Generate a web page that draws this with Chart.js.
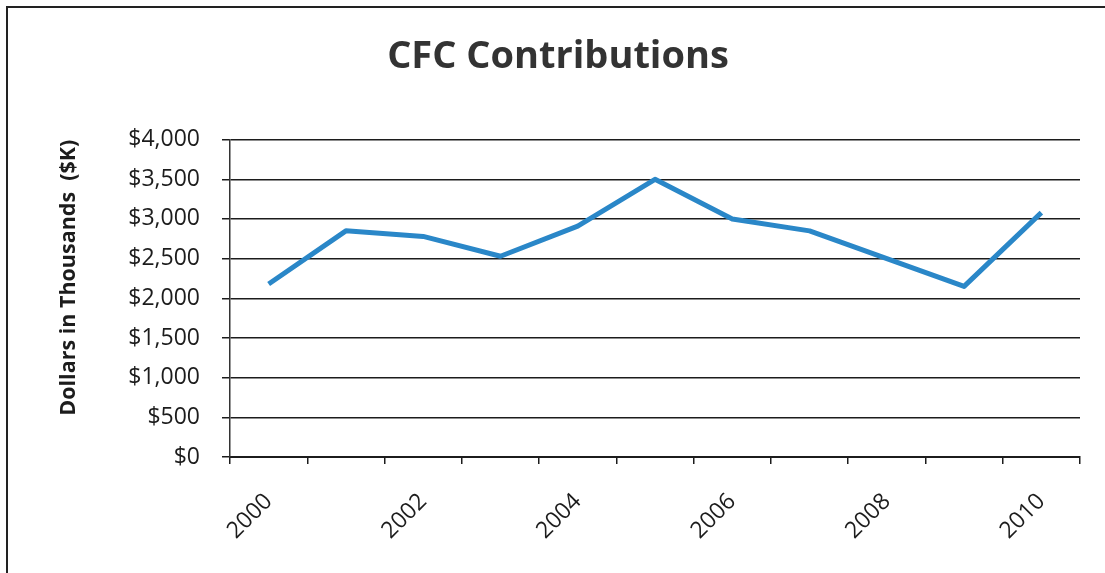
<!DOCTYPE html>
<html>
<head>
<meta charset="utf-8">
<script src="https://cdn.jsdelivr.net/npm/chart.js@4.4.1/dist/chart.umd.min.js"></script>
<style>
    html, body { margin: 0; padding: 0; background: #fff; overflow: hidden; }
    .frame {
        position: absolute; left: 6px; top: 6px; width: 1200px; height: 700px;
        border-left: 2px solid #222; border-top: 2px solid #222;
        pointer-events: none;
    }
    #cfcChart { position: absolute; left: 0; top: 0; }
</style>
</head>
<body>
<canvas id="cfcChart" width="1105" height="573"></canvas>
<div class="frame"></div>
<script>
        const years = ['2000', '2001', '2002', '2003', '2004', '2005', '2006', '2007', '2008', '2009', '2010'];
        const contributions = [2180, 2850, 2780, 2530, 2910, 3500, 3000, 2850, 2500, 2150, 3080];
        const yTicks = [0, 500, 1000, 1500, 2000, 2500, 3000, 3500, 4000];

        const inkColor = '#1c1c1c';

        const cfcChart = new Chart(document.getElementById('cfcChart'), {
            type: 'line',
            data: {
                labels: years,
                datasets: [{
                    label: 'Contributions',
                    data: contributions,
                    borderColor: '#2a87c8',
                    borderWidth: 5,
                    tension: 0,
                    pointRadius: 0,
                    fill: false,
                    borderJoinStyle: 'round'
                }]
            },
            options: {
                responsive: false,
                devicePixelRatio: 1,
                animation: false,
                layout: {
                    padding: { left: 36, right: 25, top: 0, bottom: 0 }
                },
                plugins: {
                    legend: { display: false },
                    tooltip: { enabled: false },
                    title: {
                        display: true,
                        text: 'CFC Contributions',
                        color: '#333',
                        font: { family: 'Open Sans', size: 38, weight: 'bold', lineHeight: 1.2 },
                        padding: { top: 34, bottom: 60 }
                    }
                },
                scales: {
                    x: {
                        offset: true,
                        grid: {
                            display: true,
                            offset: true,
                            drawOnChartArea: false,
                            drawTicks: true,
                            tickLength: 7,
                            color: inkColor,
                            lineWidth: 1.5
                        },
                        border: { display: true, color: inkColor, width: 2 },
                        ticks: {
                            autoSkip: false,
                            maxRotation: 45,
                            minRotation: 45,
                            padding: 24,
                            color: inkColor,
                            font: { family: 'Open Sans', size: 23 },
                            callback: (val, i) => (i % 2 === 0 ? years[i] : '')
                        },
                        afterFit: (scale) => { scale.height = 116; }
                    },
                    y: {
                        min: 0,
                        max: 4000,
                        afterBuildTicks: (scale) => {
                            scale.ticks = yTicks.map(v => ({ value: v }));
                        },
                        grid: {
                            color: inkColor,
                            lineWidth: 1.5,
                            drawTicks: true,
                            tickLength: 8
                        },
                        border: { display: true, color: '#333', width: 1.5 },
                        ticks: {
                            padding: 22,
                            color: inkColor,
                            font: { family: 'Open Sans', size: 23 },
                            callback: (val) => '$' + val.toLocaleString('en-US')
                        },
                        title: {
                            display: true,
                            text: 'Dollars in Thousands  ($K)',
                            align: 'end',
                            color: inkColor,
                            font: { family: 'Open Sans', size: 21.5, weight: 'bold', lineHeight: 1.2 },
                            padding: { top: 20, bottom: 0 }
                        },
                        afterFit: (scale) => { scale.width = 194; }
                    }
                }
            }
        });
</script>
</body>
</html>
